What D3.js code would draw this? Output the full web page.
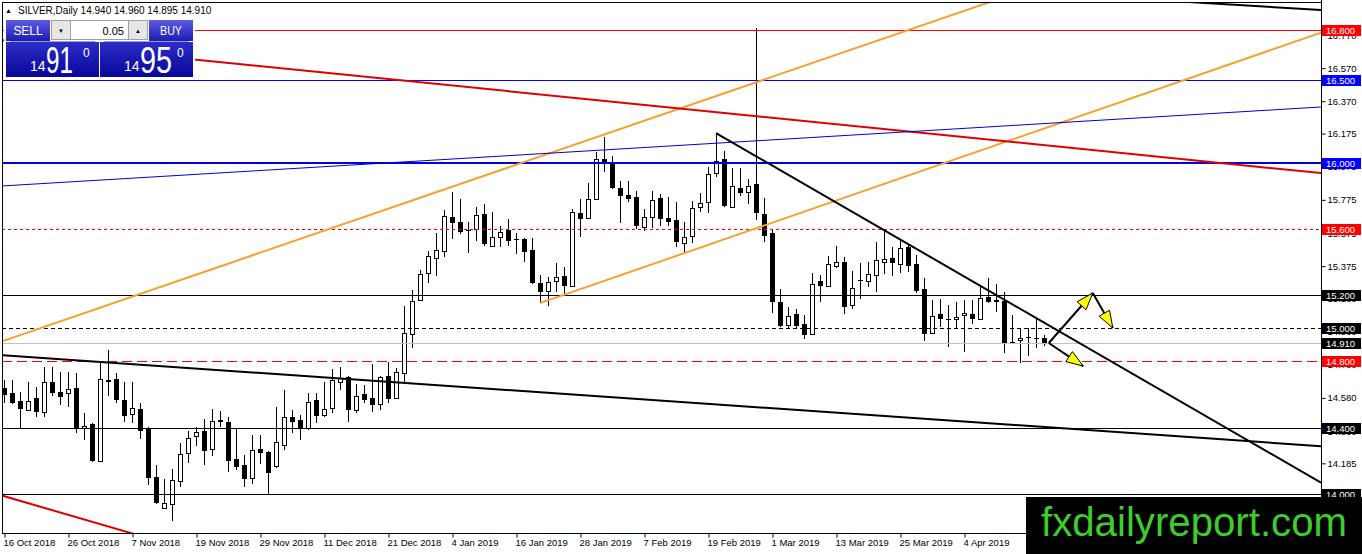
<!DOCTYPE html>
<meta charset="utf-8">
<style>
body { margin: 0; background: #fff; }
text { font-family: 'Liberation Sans', Arial, sans-serif; }
.axis text { font-size: 9.5px; fill: #000; }
.axis line { stroke: #000; }
</style>
<svg id="chart" width="1362" height="554"></svg>
<script src="https://d3js.org/d3.v7.min.js"></script>
<script>

    // ---- data ----
    var symbol = "SILVER,Daily";
    var bid = 14.910, ask = 14.950, lotSize = "0.05";

    var dateLabels = ["16 Oct 2018", "26 Oct 2018", "7 Nov 2018", "19 Nov 2018", "29 Nov 2018",
        "11 Dec 2018", "21 Dec 2018", "4 Jan 2019", "16 Jan 2019", "28 Jan 2019", "7 Feb 2019",
        "19 Feb 2019", "1 Mar 2019", "13 Mar 2019", "25 Mar 2019", "4 Apr 2019"];
    var dateIndex = [0, 8, 16, 24, 32, 40, 48, 56, 64, 72, 80, 88, 96, 104, 112, 120];

    var priceTicks = [16.770, 16.570, 16.370, 16.175, 15.975, 15.775, 15.575, 15.375,
        15.180, 14.980, 14.780, 14.580, 14.380, 14.185];

    var levels = [16.8, 16.5, 16.0, 15.6, 15.2, 15.0, 14.91, 14.8, 14.4, 14.0];

    // [bar index, price, bar index, price]
    var trendLines = [
        [-0.5, 14.917, 123.25, 16.969],
        [67, 15.152, 164.5, 16.782],
        [-0.5, 16.740, 164.5, 15.937],
        [-0.5, 13.994, 15.875, 13.764],
        [-0.5, 15.858, 164.5, 16.335],
        [150.1, 16.963, 164.5, 16.921],
        [-0.5, 14.839, 164.5, 14.289],
        [89, 16.178, 164.5, 14.072]
    ];

    var arrowLines = [
        [130.6, 14.911, 136.1, 15.213],
        [136.1, 15.213, 138.6, 15.002],
        [130.6, 14.911, 134.9, 14.772]
    ];

    // open, high, low, close
    var ohlc = [
        [14.639,14.688,14.549,14.597],[14.609,14.688,14.545,14.549],[14.561,14.615,14.398,14.513],
        [14.507,14.676,14.501,14.561],[14.579,14.646,14.464,14.495],[14.495,14.766,14.464,14.676],
        [14.676,14.766,14.591,14.609],[14.615,14.736,14.537,14.585],[14.609,14.736,14.525,14.633],
        [14.639,14.730,14.368,14.398],[14.398,14.489,14.326,14.410],[14.422,14.428,14.193,14.199],
        [14.199,14.790,14.193,14.694],[14.688,14.869,14.591,14.676],[14.694,14.730,14.549,14.567],
        [14.567,14.676,14.434,14.470],[14.483,14.676,14.428,14.519],[14.513,14.549,14.332,14.380],
        [14.398,14.404,14.054,14.096],[14.102,14.175,13.939,13.945],[13.915,14.090,13.909,13.945],
        [13.939,14.151,13.837,14.084],[14.078,14.308,14.042,14.241],[14.247,14.380,14.187,14.338],
        [14.350,14.404,14.289,14.374],[14.380,14.452,14.175,14.259],[14.271,14.513,14.229,14.440],
        [14.446,14.501,14.404,14.434],[14.434,14.464,14.133,14.199],[14.211,14.398,14.145,14.163],
        [14.175,14.235,14.042,14.090],[14.096,14.356,14.060,14.265],[14.271,14.356,14.181,14.247],
        [14.253,14.258,14.000,14.127],[14.169,14.525,14.157,14.314],[14.295,14.627,14.265,14.464],
        [14.464,14.507,14.368,14.434],[14.446,14.477,14.326,14.398],[14.398,14.609,14.386,14.555],
        [14.567,14.609,14.428,14.470],[14.477,14.676,14.464,14.513],[14.519,14.754,14.489,14.688],
        [14.676,14.766,14.627,14.700],[14.706,14.710,14.434,14.507],[14.507,14.664,14.489,14.591],
        [14.603,14.658,14.549,14.567],[14.579,14.784,14.495,14.537],[14.543,14.712,14.507,14.706],
        [14.712,14.796,14.549,14.573],[14.579,14.760,14.573,14.736],[14.730,15.134,14.670,14.971],
        [14.965,15.231,14.881,15.165],[15.171,15.351,15.165,15.327],[15.333,15.466,15.273,15.436],
        [15.424,15.575,15.316,15.472],[15.466,15.714,15.430,15.677],[15.671,15.822,15.539,15.635],
        [15.641,15.780,15.569,15.581],[15.593,15.641,15.455,15.587],[15.599,15.732,15.527,15.683],
        [15.689,15.750,15.497,15.509],[15.497,15.702,15.494,15.551],[15.551,15.617,15.491,15.581],
        [15.593,15.659,15.497,15.527],[15.539,15.575,15.448,15.533],[15.539,15.545,15.400,15.460],
        [15.472,15.545,15.267,15.273],[15.273,15.321,15.152,15.219],[15.225,15.309,15.134,15.279],
        [15.285,15.394,15.219,15.309],[15.316,15.370,15.202,15.255],[15.255,15.720,15.249,15.702],
        [15.696,15.780,15.551,15.659],[15.665,15.877,15.659,15.780],[15.780,16.064,15.774,16.021],
        [16.021,16.154,15.943,15.997],[15.997,16.040,15.842,15.846],[15.846,15.889,15.635,15.798],
        [15.804,15.889,15.762,15.780],[15.792,15.828,15.599,15.617],[15.611,15.720,15.587,15.671],
        [15.671,15.828,15.605,15.774],[15.786,15.810,15.617,15.659],[15.665,15.792,15.617,15.641],
        [15.653,15.762,15.490,15.521],[15.515,15.641,15.455,15.551],[15.557,15.768,15.515,15.726],
        [15.732,15.816,15.702,15.756],[15.762,15.973,15.696,15.931],[15.937,16.178,15.913,16.009],
        [16.021,16.070,15.732,15.738],[15.732,15.967,15.726,15.858],[15.846,15.967,15.798,15.816],
        [15.822,15.901,15.750,15.858],[15.871,16.812,15.653,15.696],[15.689,15.786,15.521,15.557],
        [15.575,15.599,15.092,15.158],[15.158,15.237,15.008,15.014],[15.020,15.128,15.002,15.074],
        [15.086,15.116,14.996,15.014],[15.026,15.080,14.935,14.959],[14.965,15.333,14.959,15.267],
        [15.285,15.321,15.158,15.255],[15.255,15.436,15.249,15.388],[15.376,15.497,15.364,15.400],
        [15.400,15.430,15.086,15.128],[15.140,15.345,15.116,15.243],[15.291,15.394,15.177,15.285],
        [15.285,15.400,15.249,15.327],[15.321,15.521,15.219,15.412],[15.400,15.599,15.327,15.418],
        [15.424,15.490,15.316,15.394],[15.388,15.539,15.333,15.484],[15.490,15.509,15.339,15.376],
        [15.388,15.442,15.213,15.225],[15.237,15.303,14.923,14.965],[14.971,15.171,14.965,15.074],
        [15.086,15.177,15.008,15.056],[15.056,15.140,14.887,15.050],[15.056,15.158,14.996,15.068],
        [15.080,15.171,14.856,15.092],[15.086,15.171,15.026,15.056],[15.056,15.261,15.050,15.183],
        [15.189,15.303,15.152,15.158],[15.171,15.267,15.098,15.158],[15.165,15.219,14.850,14.911],
        [14.917,15.080,14.905,14.911],[14.929,14.995,14.790,14.941],[14.947,15.002,14.833,14.941],
        [14.941,15.062,14.881,14.935],[14.940,14.960,14.895,14.910]
    ];

    // ---- styles ----
    var levelStyles = [
        {color: "#ff0000", width: 1, dash: null,   box: "#ff0000"},
        {color: "#0000ff", width: 1, dash: null,   box: "#0000ff"},
        {color: "#0000dd", width: 2, dash: null,   box: "#0000ff"},
        {color: "#ff0000", width: 1, dash: "3,3",  box: "#ff0000"},
        {color: "#000000", width: 1, dash: null,   box: "#000000"},
        {color: "#000000", width: 1, dash: "4,3",  box: "#000000"},
        {color: "#c0c0c0", width: 1, dash: null,   box: "#000000"},
        {color: "#ff0000", width: 1, dash: "10,5", box: "#ff0000"},
        {color: "#000000", width: 1, dash: null,   box: "#000000"},
        {color: "#000000", width: 1, dash: null,   box: "#000000"}
    ];

    var trendStyles = [
        {color: "#f5a12c", width: 2, ray: false},
        {color: "#f5a12c", width: 2, ray: true},
        {color: "#e00000", width: 2, ray: false},
        {color: "#e00000", width: 2, ray: false},
        {color: "#0000cc", width: 1, ray: false},
        {color: "#000000", width: 2, ray: false},
        {color: "#000000", width: 2, ray: false},
        {color: "#000000", width: 2, ray: true}
    ];

    var svg = d3.select("#chart");
    var plot = {left: 2, top: 2, right: 1321, bottom: 533};

    var x = d3.scaleLinear().domain([0, ohlc.length - 1]).range([4, 1044]);
    var y = d3.scaleLinear().domain([14.0, 16.8]).range([494, 30]);

    var crisp = function(v) { return Math.round(v) + 0.5; };

    var defs = svg.append("defs");
    defs.append("clipPath").attr("id", "plotClip")
        .append("rect")
        .attr("x", plot.left + 1).attr("y", plot.top + 1)
        .attr("width", plot.right - plot.left - 1).attr("height", plot.bottom - plot.top - 1);

    var gradBtn = defs.append("linearGradient").attr("id", "gBtn").attr("x1", 0).attr("y1", 0).attr("x2", 0).attr("y2", 1);
    gradBtn.append("stop").attr("offset", "0%").attr("stop-color", "#5c5ce4");
    gradBtn.append("stop").attr("offset", "100%").attr("stop-color", "#1c1cb2");
    var gradBig = defs.append("linearGradient").attr("id", "gBig").attr("x1", 0).attr("y1", 0).attr("x2", 0).attr("y2", 1);
    gradBig.append("stop").attr("offset", "0%").attr("stop-color", "#2c2cc8");
    gradBig.append("stop").attr("offset", "100%").attr("stop-color", "#07079a");

    var chart = svg.append("g").attr("clip-path", "url(#plotClip)");

    // ---- candles ----
    var candles = chart.append("g").attr("shape-rendering", "crispEdges");
    candles.selectAll(".wick")
        .data(ohlc)
        .enter().append("line")
        .attr("x1", function(d, i) { return Math.round(x(i)) + 0.5; })
        .attr("x2", function(d, i) { return Math.round(x(i)) + 0.5; })
        .attr("y1", function(d) { return y(d[1]); })
        .attr("y2", function(d) { return y(d[2]); })
        .attr("stroke", "#000");

    candles.selectAll(".body")
        .data(ohlc)
        .enter().append("rect")
        .attr("x", function(d, i) { return Math.round(x(i)) - 2 + (d[3] >= d[0] ? 0.5 : 0); })
        .attr("y", function(d) {
            var top = Math.round(y(Math.max(d[0], d[3])));
            return d[3] >= d[0] ? top + 0.5 : top;
        })
        .attr("width", function(d) { return d[3] >= d[0] ? 4 : 5; })
        .attr("height", function(d) {
            var h = Math.round(y(Math.min(d[0], d[3]))) - Math.round(y(Math.max(d[0], d[3])));
            return Math.max(1, h);
        })
        .attr("fill", function(d) { return d[3] >= d[0] ? "#fff" : "#000"; })
        .attr("stroke", function(d) { return d[3] >= d[0] ? "#000" : "none"; });

    // ---- horizontal levels ----
    chart.selectAll(".level")
        .data(levels)
        .enter().append("line")
        .attr("shape-rendering", "crispEdges")
        .attr("x1", plot.left).attr("x2", plot.right)
        .attr("y1", function(d, i) { return levelStyles[i].width === 2 ? Math.round(y(d)) : crisp(y(d)); })
        .attr("y2", function(d, i) { return levelStyles[i].width === 2 ? Math.round(y(d)) : crisp(y(d)); })
        .attr("stroke", function(d, i) { return levelStyles[i].color; })
        .attr("stroke-width", function(d, i) { return levelStyles[i].width; })
        .attr("stroke-dasharray", function(d, i) { return levelStyles[i].dash; });

    // ---- trend lines ----
    chart.selectAll(".trend")
        .data(trendLines)
        .enter().append("line")
        .each(function(d, i) {
            var xa = x(d[0]), ya = y(d[1]), xb = x(d[2]), yb = y(d[3]);
            var m = (yb - ya) / (xb - xa);
            var x0 = trendStyles[i].ray ? xa : plot.left;
            var x1 = plot.right;
            d3.select(this)
                .attr("x1", x0).attr("y1", ya + m * (x0 - xa))
                .attr("x2", x1).attr("y2", ya + m * (x1 - xa));
        })
        .attr("stroke", function(d, i) { return trendStyles[i].color; })
        .attr("stroke-width", function(d, i) { return trendStyles[i].width; });

    // ---- arrowed lines ----
    var arrows = chart.append("g");
    arrows.selectAll(".arrowLine")
        .data(arrowLines)
        .enter().append("line")
        .attr("x1", function(d) { return x(d[0]); })
        .attr("y1", function(d) { return y(d[1]); })
        .attr("x2", function(d) { return x(d[2]); })
        .attr("y2", function(d) { return y(d[3]); })
        .attr("stroke", "#000").attr("stroke-width", 2);

    arrows.selectAll(".arrowHead")
        .data(arrowLines)
        .enter().append("polygon")
        .attr("points", function(d) {
            var x1 = x(d[0]), y1 = y(d[1]), x2 = x(d[2]), y2 = y(d[3]);
            var a = Math.atan2(y2 - y1, x2 - x1), len = 17, half = 6;
            var bx = x2 - len * Math.cos(a), by = y2 - len * Math.sin(a);
            return [[x2, y2],
                    [bx + half * Math.sin(a), by - half * Math.cos(a)],
                    [bx - half * Math.sin(a), by + half * Math.cos(a)]].join(" ");
        })
        .attr("fill", "#ffff00").attr("stroke", "#000").attr("stroke-width", 1);

    // ---- frame ----
    var frame = svg.append("g").attr("shape-rendering", "crispEdges").attr("stroke", "#000");
    frame.append("line").attr("x1", crisp(plot.left)).attr("x2", crisp(plot.left)).attr("y1", plot.top).attr("y2", plot.bottom);
    frame.append("line").attr("x1", crisp(plot.right)).attr("x2", crisp(plot.right)).attr("y1", 0).attr("y2", plot.bottom);
    frame.append("line").attr("x1", plot.left).attr("x2", plot.right).attr("y1", crisp(plot.bottom)).attr("y2", crisp(plot.bottom));
    frame.append("line").attr("x1", plot.left).attr("x2", plot.right).attr("y1", crisp(plot.top)).attr("y2", crisp(plot.top));

    // ---- axes ----
    var yAxis = svg.append("g")
        .attr("class", "axis")
        .attr("transform", "translate(" + crisp(plot.right) + ",0)")
        .call(d3.axisRight(y).tickValues(priceTicks).tickSize(4).tickPadding(2).tickFormat(d3.format(".3f")));
    yAxis.select(".domain").remove();

    var xAxis = svg.append("g")
        .attr("class", "axis")
        .attr("transform", "translate(0," + crisp(plot.bottom) + ")")
        .call(d3.axisBottom(x).tickValues(dateIndex).tickSize(4)
            .tickFormat(function(d, i) { return dateLabels[i]; }));
    xAxis.select(".domain").remove();
    xAxis.selectAll(".tick line").attr("transform", "translate(0.5,0)");
    xAxis.selectAll("text").attr("text-anchor", "start").attr("x", -1).attr("y", 6);

    // ---- level price boxes ----
    var boxes = svg.append("g");
    boxes.selectAll("rect")
        .data(levels)
        .enter().append("rect")
        .attr("x", plot.right + 1).attr("width", 39)
        .attr("y", function(d) { return Math.round(y(d)) - 5; })
        .attr("height", 11)
        .attr("fill", function(d, i) { return levelStyles[i].box; });
    boxes.selectAll("text")
        .data(levels)
        .enter().append("text")
        .attr("x", plot.right + 5)
        .attr("y", function(d) { return Math.round(y(d)) + 4; })
        .attr("font-size", "9.5px")
        .attr("fill", "#fff")
        .text(d3.format(".3f"));

    // ---- header ----
    var last = ohlc[ohlc.length - 1];
    svg.append("text").attr("x", 5).attr("y", 13).attr("font-size", "7px").text("\u25B2");
    svg.append("text").attr("x", 18).attr("y", 13.5).attr("font-size", "10px")
        .text(symbol + "  " + last.map(d3.format(".3f")).join(" "));

    // ---- one click trading panel ----
    var panel = svg.append("g");
    panel.append("rect").attr("x", 4).attr("y", 18).attr("width", 191).attr("height", 60).attr("fill", "#fff");

    var button = function(x0, w, label) {
        panel.append("rect").attr("x", x0).attr("y", 20).attr("width", w).attr("height", 21).attr("fill", "url(#gBtn)");
        panel.append("text").attr("x", x0 + w / 2).attr("y", 35).attr("text-anchor", "middle")
            .attr("font-size", "12px").attr("fill", "#fff")
            .attr("textLength", label.length * 7.3).attr("lengthAdjust", "spacingAndGlyphs").text(label);
    };
    button(6, 44, "SELL");
    button(149, 44, "BUY");

    panel.append("rect").attr("x", 51.5).attr("y", 20.5).attr("width", 96).attr("height", 19)
        .attr("fill", "#fff").attr("stroke", "#a0a0a0");
    [[51.5, "\u25BC"], [128.5, "\u25B2"]].forEach(function(b) {
        panel.append("rect").attr("x", b[0]).attr("y", 20.5).attr("width", 19).attr("height", 19)
            .attr("fill", "#e6e6e6").attr("stroke", "#a0a0a0");
        panel.append("text").attr("x", b[0] + 9.5).attr("y", 33).attr("text-anchor", "middle")
            .attr("font-size", "6px").text(b[1]);
    });
    panel.append("text").attr("x", 124).attr("y", 35).attr("text-anchor", "end")
        .attr("font-size", "11px").text(lotSize);

    var quote = function(x0, price, bigWidth) {
        var s = price.toFixed(3);
        panel.append("rect").attr("x", x0).attr("y", 42).attr("width", 93).attr("height", 35).attr("fill", "url(#gBig)");
        panel.append("line").attr("x1", x0 + 4).attr("x2", x0 + 89).attr("y1", 41.5).attr("y2", 41.5)
            .attr("stroke", "#9a9ae0");
        panel.append("text").attr("x", x0 + 24).attr("y", 71).attr("font-size", "14px").attr("fill", "#fff")
            .text(s.slice(0, 2));
        panel.append("text").attr("x", x0 + 40).attr("y", 73).attr("font-size", "36px").attr("fill", "#fff")
            .attr("textLength", bigWidth).attr("lengthAdjust", "spacingAndGlyphs").text(s.slice(3, 5));
        panel.append("text").attr("x", x0 + 77).attr("y", 57).attr("font-size", "12px").attr("fill", "#fff")
            .text(s.slice(5));
    };
    quote(6, bid, 27);
    quote(100, ask, 32);

    // ---- watermark ----
    svg.append("rect").attr("x", 1026).attr("y", 497).attr("width", 336).attr("height", 57).attr("fill", "#000");
    svg.append("text").attr("x", 1041).attr("y", 536).attr("font-size", "40px").attr("fill", "#3ccf2c")
        .attr("textLength", 306).attr("lengthAdjust", "spacingAndGlyphs").text("fxdailyreport.com");

</script>
